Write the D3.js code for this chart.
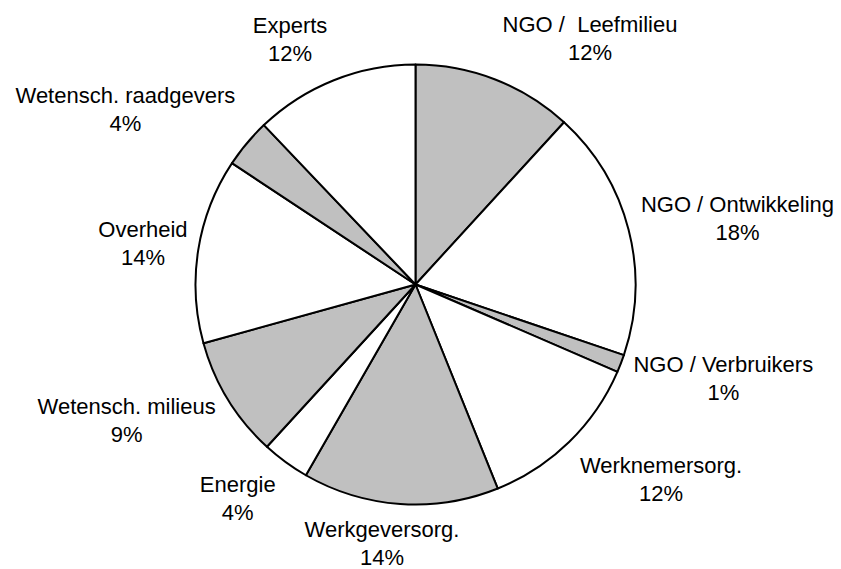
<!DOCTYPE html>
<html>
<head>
<meta charset="utf-8">
<script src="https://cdn.jsdelivr.net/npm/d3@7"></script>
<style>
  html, body { margin: 0; padding: 0; background: #fff; }
  svg { display: block; }
  text { font-family: "Liberation Sans", Arial, sans-serif; font-size: 22px; fill: #000; }
</style>
</head>
<body>
<svg id="chart" width="841" height="569"></svg>
<script>
// ---- data ----
const categories = [
  "NGO /  Leefmilieu",
  "NGO / Ontwikkeling",
  "NGO / Verbruikers",
  "Werknemersorg.",
  "Werkgeversorg.",
  "Energie",
  "Wetensch. milieus",
  "Overheid",
  "Wetensch. raadgevers",
  "Experts"
];
const shares = [11.8, 18.4, 1.3, 12.4, 14.4, 3.5, 8.9, 13.6, 3.6, 12.1];
const percentLabels = ["12%", "18%", "1%", "12%", "14%", "4%", "9%", "14%", "4%", "12%"];

// ---- layout (not data) ----
const W = 841, H = 569;
const cx = 415.5, cy = 284.5, R = 220;
const labelR = 265;
const lineGap = 28;
const fills = ["#C0C0C0", "#FFFFFF"];
// small label nudges relative to the label-arc centroid
const labelNudge = [
  [78.5, -5.5], [65.3, -6.9], [60.5, -7.7], [60.5, -1], [-15.2, -12.2],
  [-21.3, -6.7], [-62.9, -9], [-10.8, -5.7], [-87, -10.9], [-27.1, -5.9]
];

const data = categories.map((c, i) => ({ name: c, value: shares[i], pct: percentLabels[i], i }));

const svg = d3.select("#chart");
const g = svg.append("g").attr("transform", `translate(${cx},${cy})`);

const pie = d3.pie().value(d => d.value).sort(null).startAngle(0).endAngle(2 * Math.PI);
const arcs = pie(data);

const arc = d3.arc().innerRadius(0).outerRadius(R);
const labelArc = d3.arc().innerRadius(labelR).outerRadius(labelR);

g.selectAll("path.slice")
  .data(arcs)
  .join("path")
  .attr("class", "slice")
  .attr("d", arc)
  .attr("fill", (d, i) => fills[i % 2])
  .attr("stroke", "#000")
  .attr("stroke-width", 2)
  .attr("stroke-linejoin", "round");

const labels = g.selectAll("text.lbl")
  .data(arcs)
  .join("text")
  .attr("class", "lbl")
  .attr("text-anchor", "middle")
  .attr("transform", (d, i) => {
    const [x, y] = labelArc.centroid(d);
    return `translate(${x + labelNudge[i][0]},${y + labelNudge[i][1]})`;
  });

labels.append("tspan").attr("x", 0).attr("y", 0).text(d => d.data.name).attr("xml:space", "preserve").style("white-space", "pre");
labels.append("tspan").attr("x", 0).attr("y", lineGap).text(d => d.data.pct);
</script>
</body>
</html>
